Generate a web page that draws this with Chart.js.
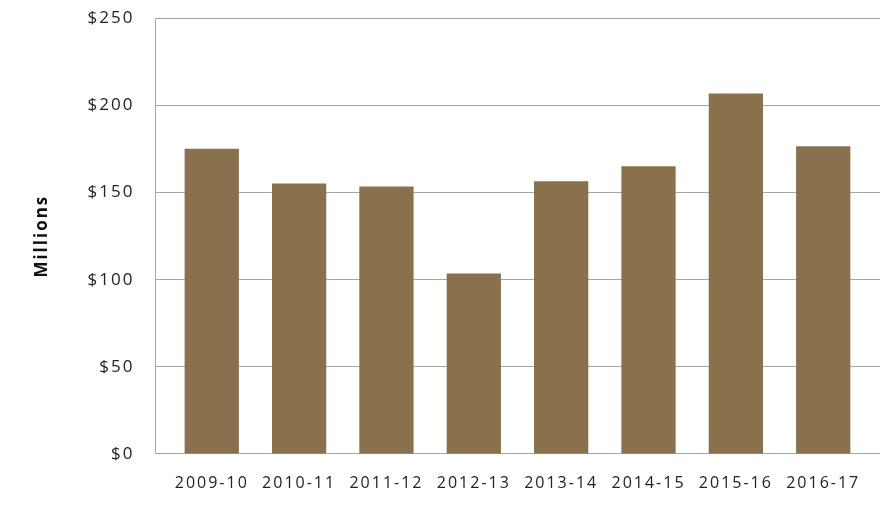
<!DOCTYPE html>
<html>
<head>
<meta charset="utf-8">
<script src="https://cdn.jsdelivr.net/npm/chart.js@4.4.1/dist/chart.umd.min.js"></script>
<style>
  html, body { margin: 0; padding: 0; background: #fff; }
  #wrap { width: 880px; height: 521px; }
</style>
</head>
<body>
<div id="wrap"><canvas id="grafik"></canvas></div>
<script>
// fiscal years and spending (millions of dollars)
var yillar = ["2009-10", "2010-11", "2011-12", "2012-13", "2013-14", "2014-15", "2015-16", "2016-17"];
var tutarlar = [175, 155, 153.3, 103.3, 156.3, 165, 206.7, 176.4];
var yTikler = [0, 50, 100, 150, 200, 250];

var yaziTipi = "'Open Sans', 'DejaVu Sans', sans-serif";

var noktalar = tutarlar.map(function (v, i) { return { x: i, y: v }; });

// wider letter spacing, like the original typeface
var harfAraligi = {
    id: "harfAraligi",
    beforeUpdate: function (c) { c.ctx.letterSpacing = "2px"; },
    beforeDraw: function (c) { c.ctx.letterSpacing = "2px"; }
};

var ctx = document.getElementById("grafik").getContext("2d");
var grafik = new Chart(ctx, {
    type: "bar",
    plugins: [harfAraligi],
    data: {
        datasets: [{
            label: "Millions",
            data: noktalar,
            backgroundColor: "#89714E",
            borderWidth: 0,
            barThickness: 53.6
        }]
    },
    options: {
        responsive: true,
        maintainAspectRatio: false,
        animation: false,
        layout: { padding: { left: 24, top: 18.5, right: 0, bottom: 16 } },
        plugins: {
            legend: { display: false },
            tooltip: { enabled: false }
        },
        scales: {
            x: {
                type: "linear",
                offset: false,
                min: -0.644,
                max: 7.65,
                grid: { display: false },
                border: { display: true, color: "#A6A6A6", width: 1 },
                afterBuildTicks: function (s) {
                    s.ticks = yillar.map(function (_, i) { return { value: i }; });
                },
                afterFit: function (s) { s.paddingLeft = 0; s.paddingRight = 0; },
                ticks: {
                    padding: 12,
                    color: "#222",
                    font: { family: yaziTipi, size: 16 },
                    maxRotation: 0,
                    autoSkip: false,
                    callback: function (v) { return yillar[v]; }
                }
            },
            y: {
                min: 0,
                max: 250,
                afterBuildTicks: function (s) {
                    s.ticks = yTikler.map(function (v) { return { value: v }; });
                },
                afterFit: function (s) {
                    s.width = 131.5;
                    s.paddingTop = 0;
                    s.paddingBottom = 0;
                },
                grid: { color: "#A6A6A6", lineWidth: 1, drawTicks: false },
                border: { display: true, color: "#A6A6A6", width: 1 },
                ticks: {
                    padding: 21,
                    color: "#222",
                    font: { family: yaziTipi, size: 17 },
                    callback: function (v) { return "$" + v; }
                },
                title: {
                    display: true,
                    text: "Millions",
                    color: "#111",
                    padding: { top: 8, bottom: 0 },
                    font: { family: yaziTipi, size: 17, weight: "bold" }
                }
            }
        }
    }
});
</script>
</body>
</html>
